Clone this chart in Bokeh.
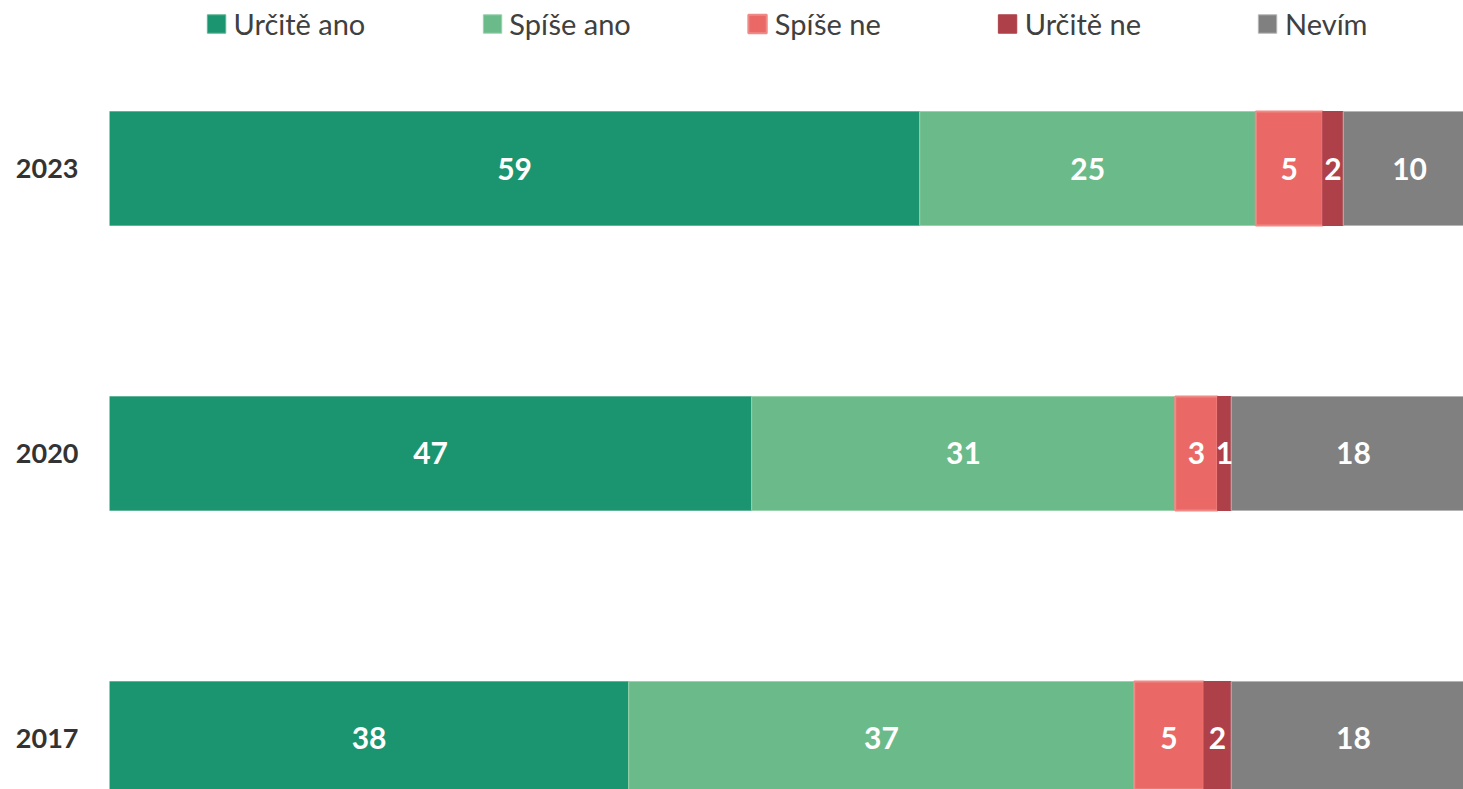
from bokeh.plotting import figure
from bokeh.models import ColumnDataSource, LabelSet, FixedTicker, Legend, LegendItem
from bokeh.core.properties import value
from bokeh.embed import file_html
from bokeh.resources import INLINE

years = ["2023", "2020", "2017"]
positions = [2, 1, 0]
series = ["Určitě ano", "Spíše ano", "Spíše ne", "Určitě ne", "Nevím"]
urcite_ano = [59.3, 47.0, 38.0]
spise_ano = [24.6, 31.0, 37.0]
spise_ne = [4.9, 3.1, 5.1]
urcite_ne = [1.5, 1.0, 2.0]
nevim = [9.7, 17.9, 17.9]
colors = ["#1b9470", "#6bba8a", "#ea6967", "#ae4049", "#808080"]
edge_colors = ["#5fb595", "#9bd2ae", "#f08a86", "#ae4049", "#b5b5b5"]

values = [urcite_ano, spise_ano, spise_ne, urcite_ne, nevim]

p = figure(width=1463, height=789, output_backend="svg", toolbar_location=None,
           x_range=(0, 99.1), y_range=(-0.179, 2.5895),
           min_border_left=109, min_border_right=0, min_border_top=0, min_border_bottom=0)
p.outline_line_color = None
p.xgrid.visible = False
p.ygrid.visible = False
p.xaxis.visible = False

items = []
for i, (name, vals) in enumerate(zip(series, values)):
    lefts = [sum(values[k][j] for k in range(i)) for j in range(len(years))]
    rights = [l + v for l, v in zip(lefts, vals)]
    mids = [(l + r) / 2 for l, r in zip(lefts, rights)]
    src = ColumnDataSource(dict(y=positions, left=lefts, right=rights, mid=mids,
                                txt=[str(round(v)) for v in vals]))
    r = p.hbar(y="y", left="left", right="right", height=0.4, source=src,
               fill_color=colors[i], line_color=edge_colors[i],
               line_width=2 if name == "Spíše ne" else 1)
    items.append(LegendItem(label=name, renderers=[r]))
    lbl = LabelSet(x="mid", y="y", text="txt", source=src, text_align="center",
                   text_baseline="middle", text_color="white",
                   text_font=value("Lato"), text_font_style="bold",
                   text_font_size="30px")
    p.add_layout(lbl)

legend = Legend(items=items, location="top_center", orientation="horizontal",
                margin=6, padding=0, spacing=115, label_standoff=6,
                glyph_width=23, glyph_height=23, border_line_alpha=0,
                background_fill_alpha=0, label_text_font="Lato",
                label_text_font_size="29px", label_text_color="#404040")
p.add_layout(legend)

p.yaxis.ticker = FixedTicker(ticks=positions)
p.yaxis.major_label_overrides = {pos: y for pos, y in zip(positions, years)}
p.yaxis.axis_line_color = None
p.yaxis.major_tick_line_color = None
p.yaxis.minor_tick_line_color = None
p.yaxis.major_tick_in = 0
p.yaxis.major_tick_out = 0
p.yaxis.major_label_standoff = 31
p.yaxis.major_label_text_font = "Lato"
p.yaxis.major_label_text_font_style = "bold"
p.yaxis.major_label_text_font_size = "27px"
p.yaxis.major_label_text_color = "#333333"

open("out.html", "w").write(file_html(p, INLINE))
